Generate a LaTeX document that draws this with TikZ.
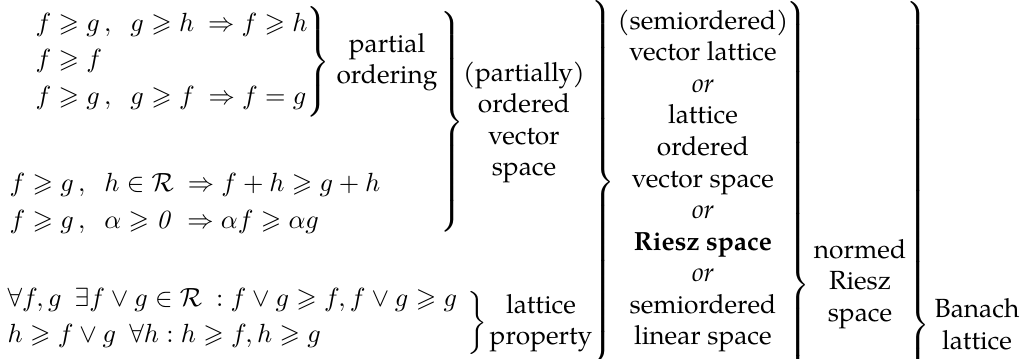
\documentclass[tikz,border=0pt]{standalone}
\usepackage{amssymb}
\usepackage[no-math]{fontspec}
\setmainfont{TeX Gyre Pagella}
\newcommand{\tallbrace}[1]{$\delimiterfactor=1000 \delimitershortfall=0pt
  \left.\vcenter{\hbox{\rule{0pt}{#1}}}\right\}$}
\begin{document}
\begin{tikzpicture}[
    every node/.style={inner sep=0pt},
    rows/.style={anchor=west, align=left},
    txt/.style={align=center},
  ]
  \useasboundingbox (0,0) rectangle (13.807,-4.798);
  \clip (0,0) rectangle (13.807,-4.798);

  % axioms
  \node[rows] (order) at (0.468,-0.815)
    {$f \geqslant g\,,\;\; g \geqslant h\ \Rightarrow f \geqslant h$\\[1.9pt]
     $f \geqslant f$\\[1.9pt]
     $f \geqslant g\,,\;\; g \geqslant f\ \Rightarrow f = g$};

  \node[rows] (vector) at (0.120,-2.720)
    {$f \geqslant g\,,\;\; h \in \mathcal{R}\ \Rightarrow f + h \geqslant g + h$\\[1.9pt]
     $f \geqslant g\,,\;\; \alpha \geqslant \mathit{0}\ \Rightarrow \alpha f \geqslant \alpha g$};

  \node[rows] (sup) at (0.094,-4.250)
    {$\forall f, g\ \ \exists f \vee g \in \mathcal{R}\ : f \vee g \geqslant f, f \vee g \geqslant g$\\[1.9pt]
     $h \geqslant f \vee g\ \ \forall h : h \geqslant f, h \geqslant g$};

  % braces
  \node (b1) at (4.230,-0.829) {\tallbrace{42pt}};
  \node (b2) at (6.021,-1.631) {\tallbrace{83.7pt}};
  \node (b3) at (8.040,-2.433) {\tallbrace{132.3pt}};
  \node (b4) at (6.356,-4.317) {\tallbrace{23.6pt}};
  \node (b5) at (10.646,-3.809) {\tallbrace{211pt}};
  \node (b6) at (12.250,-4.344) {\tallbrace{241pt}};

  % names
  \node[txt] (partial) at (5.173,-0.829) {partial\\ordering};
  \node[txt] (ovs) at (7.004,-1.637) {(partially)\\ordered\\vector\\space};
  \node[txt] (lattprop) at (7.231,-4.317) {lattice\\property};
  \node[txt] (riesz) at (9.396,-2.419)
    {(semiordered)\\vector lattice\\\textit{or}\\lattice\\ordered\\vector space\\
     \textit{or}\\\textbf{Riesz space}\\\textit{or}\\semiordered\\linear space};
  \node[txt] (normed) at (11.495,-3.796) {normed\\Riesz\\space};
  \node[txt] (banach) at (13.059,-4.331) {Banach\\lattice};

\end{tikzpicture}
\end{document}
